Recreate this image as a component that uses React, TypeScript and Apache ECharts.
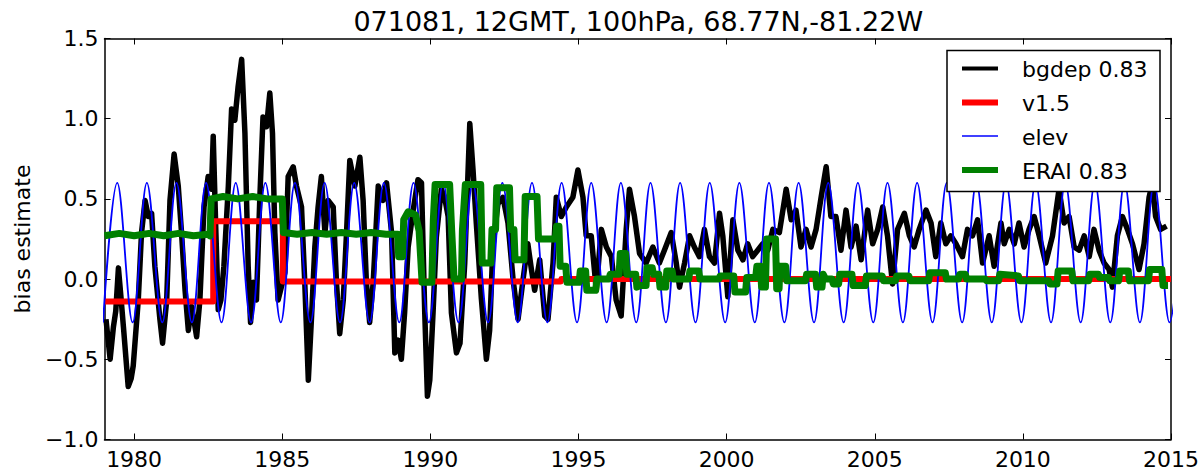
import React, { useEffect, useRef } from "react";
import * as echarts from "echarts";

const TITLE = "071081, 12GMT, 100hPa, 68.77N,-81.22W";
const Y_LABEL = "bias estimate";
const X_TICKS = [1980, 1985, 1990, 1995, 2000, 2005, 2010, 2015];
const LEGEND_NAMES = ["bgdep 0.83", "v1.5", "elev", "ERAI 0.83"];
const COLORS = ["#000000", "#ff0000", "#0000ff", "#008000"];
const WIDTHS = [5.5, 6, 1.8, 7];

const bgdep: [number, number][] = [
  [1979.05, -0.25], [1979.19, -0.5], [1979.3, -0.3], [1979.38, -0.2], [1979.47, 0.07], [1979.55, -0.1],
  [1979.64, -0.3], [1979.8, -0.67], [1979.9, -0.62], [1979.97, -0.54], [1980.14, -0.13], [1980.25, 0.29],
  [1980.37, 0.49], [1980.48, 0.39], [1980.59, 0.41], [1980.7, 0.08], [1980.87, -0.25], [1980.96, -0.4],
  [1981.1, -0.13], [1981.21, 0.49], [1981.35, 0.78], [1981.49, 0.58], [1981.6, 0.29], [1981.72, -0.07],
  [1981.83, -0.32], [1981.94, -0.17], [1982.11, -0.36], [1982.22, -0.13], [1982.36, 0.45], [1982.5, 0.64],
  [1982.61, 0.56], [1982.67, 0.89], [1982.76, 0.29], [1982.84, -0.19], [1982.93, -0.13], [1983.03, 0.08],
  [1983.18, 0.58], [1983.29, 1.06], [1983.4, 0.99], [1983.51, 1.2], [1983.63, 1.37], [1983.74, 0.91],
  [1983.85, 0.08], [1983.93, -0.27], [1984.02, -0.02], [1984.13, -0.13], [1984.24, 0.49], [1984.35, 1.01],
  [1984.47, 0.95], [1984.58, 1.16], [1984.67, 0.91], [1984.75, 0.29], [1984.86, -0.13], [1984.97, -0.05],
  [1985.09, 0.04], [1985.2, 0.64], [1985.37, 0.7], [1985.48, 0.58], [1985.65, 0.45], [1985.76, -0.02],
  [1985.88, -0.63], [1985.99, -0.23], [1986.1, 0.2], [1986.21, 0.45], [1986.32, 0.64], [1986.44, 0.29],
  [1986.55, 0.49], [1986.72, 0.45], [1986.83, -0.02], [1986.94, -0.34], [1987.06, -0.13], [1987.17, 0.29],
  [1987.28, 0.74], [1987.45, 0.58], [1987.62, 0.76], [1987.73, 0.49], [1987.84, -0.02], [1987.95, -0.27],
  [1988.07, -0.02], [1988.24, 0.58], [1988.4, 0.49], [1988.52, 0.6], [1988.69, 0.29], [1988.8, -0.46],
  [1988.91, -0.38], [1989.02, -0.5], [1989.13, -0.21], [1989.25, 0.2], [1989.42, 0.43], [1989.58, 0.62],
  [1989.7, 0.6], [1989.81, -0.21], [1989.9, -0.73], [1989.98, -0.63], [1990.09, -0.21], [1990.2, 0.26],
  [1990.37, 0.56], [1990.48, 0.51], [1990.6, 0.39], [1990.71, -0.21], [1990.88, -0.46], [1991.0, -0.4],
  [1991.16, 0.1], [1991.33, 0.97], [1991.44, 0.68], [1991.55, 0.35], [1991.72, -0.12], [1991.89, -0.5],
  [1992.0, -0.32], [1992.11, 0.2], [1992.28, 0.47], [1992.45, 0.51], [1992.62, 0.35], [1992.79, 0.0],
  [1992.96, -0.25], [1993.13, 0.0], [1993.29, 0.22], [1993.41, 0.06], [1993.52, -0.07], [1993.69, 0.12],
  [1993.86, -0.23], [1993.97, -0.25], [1994.14, 0.1], [1994.25, 0.51], [1994.42, 0.39], [1994.59, 0.45],
  [1994.81, 0.51], [1994.98, 0.68], [1995.15, 0.51], [1995.26, 0.27], [1995.43, 0.27], [1995.6, -0.07],
  [1995.77, 0.31], [1995.94, 0.2], [1996.11, 0.14], [1996.27, -0.13], [1996.44, -0.23], [1996.61, 0.31],
  [1996.72, 0.56], [1996.89, 0.39], [1997.06, 0.16], [1997.28, 0.1], [1997.51, 0.2], [1997.73, 0.1],
  [1997.9, 0.18], [1998.13, 0.29], [1998.3, 0.1], [1998.41, -0.05], [1998.58, 0.1], [1998.75, 0.27],
  [1998.91, 0.2], [1999.08, 0.14], [1999.25, 0.31], [1999.42, 0.14], [1999.59, 0.1], [1999.76, 0.41],
  [1999.87, 0.27], [2000.04, -0.11], [2000.21, 0.37], [2000.38, 0.18], [2000.55, 0.12], [2000.71, 0.22],
  [2000.88, 0.14], [2001.05, 0.18], [2001.22, 0.22], [2001.39, 0.18], [2001.56, 0.31], [2001.78, 0.29],
  [2002.01, 0.56], [2002.18, 0.37], [2002.34, 0.43], [2002.51, 0.2], [2002.68, 0.31], [2002.85, 0.2],
  [2003.02, 0.31], [2003.19, 0.51], [2003.36, 0.7], [2003.52, 0.39], [2003.69, 0.39], [2003.86, 0.18],
  [2004.03, 0.43], [2004.2, 0.2], [2004.37, 0.33], [2004.54, 0.12], [2004.76, 0.43], [2004.93, 0.22],
  [2005.1, 0.31], [2005.27, 0.45], [2005.43, 0.27], [2005.6, -0.03], [2005.77, 0.31], [2006.0, 0.41],
  [2006.17, 0.27], [2006.33, 0.2], [2006.5, 0.31], [2006.73, 0.43], [2006.9, 0.35], [2007.06, 0.14],
  [2007.23, 0.35], [2007.4, 0.22], [2007.57, 0.27], [2007.74, 0.22], [2007.96, 0.14], [2008.13, 0.31],
  [2008.3, 0.27], [2008.47, 0.37], [2008.64, 0.1], [2008.86, 0.27], [2009.03, 0.08], [2009.26, 0.35],
  [2009.37, 0.22], [2009.54, 0.31], [2009.71, 0.22], [2009.87, 0.35], [2010.04, 0.2], [2010.21, 0.31],
  [2010.38, 0.39], [2010.55, 0.27], [2010.77, 0.1], [2011.0, 0.27], [2011.22, 0.56], [2011.39, 0.35],
  [2011.56, 0.39], [2011.73, 0.2], [2011.9, 0.18], [2012.07, 0.27], [2012.24, 0.14], [2012.4, 0.31],
  [2012.57, 0.18], [2012.74, 0.1], [2012.91, 0.06], [2013.02, -0.05], [2013.19, 0.27], [2013.36, 0.39],
  [2013.53, 0.31], [2013.7, 0.22], [2013.92, 0.06], [2014.09, 0.22], [2014.26, 0.51], [2014.37, 0.6],
  [2014.48, 0.39], [2014.65, 0.31], [2014.85, 0.33]
];

const v15: [number, number][] = [
  [1979.0, -0.14], [1982.67, -0.14], [1982.67, 0.36], [1985.02, 0.36], [1985.02, -0.015],
  [1994.4, -0.015], [1994.42, 0.0], [2015.0, 0.0]
];

const elev: [number, number][] = [
  [1978.95, -0.27], [1979.43, 0.6], [1979.95, -0.27], [1980.43, 0.6], [1980.95, -0.27], [1981.43, 0.6],
  [1981.95, -0.27], [1982.43, 0.6], [1982.95, -0.27], [1983.43, 0.6], [1983.95, -0.27], [1984.43, 0.6],
  [1984.95, -0.27], [1985.43, 0.6], [1985.95, -0.27], [1986.43, 0.6], [1986.95, -0.27], [1987.43, 0.6],
  [1987.95, -0.27], [1988.43, 0.6], [1988.95, -0.27], [1989.43, 0.6], [1989.95, -0.27], [1990.43, 0.6],
  [1990.95, -0.27], [1991.43, 0.6], [1991.95, -0.27], [1992.43, 0.6], [1992.95, -0.27], [1993.43, 0.6],
  [1993.95, -0.27], [1994.43, 0.6], [1994.95, -0.27], [1995.43, 0.6], [1995.95, -0.27], [1996.43, 0.6],
  [1996.95, -0.27], [1997.43, 0.6], [1997.95, -0.27], [1998.43, 0.6], [1998.95, -0.27], [1999.43, 0.6],
  [1999.95, -0.27], [2000.43, 0.6], [2000.95, -0.27], [2001.43, 0.6], [2001.95, -0.27], [2002.43, 0.6],
  [2002.95, -0.27], [2003.43, 0.6], [2003.95, -0.27], [2004.43, 0.6], [2004.95, -0.27], [2005.43, 0.6],
  [2005.95, -0.27], [2006.43, 0.6], [2006.95, -0.27], [2007.43, 0.6], [2007.95, -0.27], [2008.43, 0.6],
  [2008.95, -0.27], [2009.43, 0.6], [2009.95, -0.27], [2010.43, 0.6], [2010.95, -0.27], [2011.43, 0.6],
  [2011.95, -0.27], [2012.43, 0.6], [2012.95, -0.27], [2013.43, 0.6], [2013.95, -0.27], [2014.43, 0.6],
  [2014.95, -0.27], [2015.43, 0.6]
];

const erai: [number, number][] = [
  [1979.0, 0.27], [1979.5, 0.285], [1980.0, 0.27], [1980.5, 0.285], [1981.0, 0.27], [1981.5, 0.285],
  [1982.0, 0.27], [1982.5, 0.28], [1982.56, 0.27], [1982.6, 0.5], [1983.0, 0.515], [1983.5, 0.5],
  [1984.0, 0.515], [1984.5, 0.5], [1985.0, 0.5], [1985.04, 0.29], [1985.5, 0.28], [1986.0, 0.29],
  [1986.5, 0.28], [1987.0, 0.29], [1987.5, 0.28], [1988.0, 0.29], [1988.5, 0.28], [1988.9, 0.28],
  [1988.93, 0.14], [1989.06, 0.14], [1989.1, 0.37], [1989.25, 0.42], [1989.5, 0.4], [1989.62, 0.3],
  [1989.72, -0.02], [1990.05, -0.02], [1990.1, 0.37], [1990.16, 0.59], [1990.65, 0.59], [1990.72, 0.3],
  [1990.8, 0.0], [1991.05, 0.0], [1991.08, 0.3], [1991.18, 0.59], [1991.7, 0.59], [1991.75, 0.1],
  [1992.04, 0.1], [1992.08, 0.31], [1992.2, 0.31], [1992.24, 0.57], [1992.67, 0.57], [1992.71, 0.31],
  [1992.82, 0.31], [1992.86, 0.12], [1993.16, 0.12], [1993.2, 0.515], [1993.6, 0.515], [1993.65, 0.25],
  [1994.22, 0.25], [1994.26, 0.33], [1994.34, 0.33], [1994.38, 0.08], [1994.57, 0.08], [1994.61, -0.02],
  [1995.02, -0.02], [1995.06, 0.05], [1995.24, 0.05], [1995.28, -0.07], [1995.58, -0.07], [1995.62, 0.0],
  [1996.03, 0.0], [1996.07, 0.03], [1996.37, 0.03], [1996.41, 0.16], [1996.59, 0.16], [1996.63, 0.03],
  [1996.93, 0.03], [1996.97, -0.05], [1997.08, -0.04], [1997.28, -0.04], [1997.31, 0.07], [1997.49, 0.07],
  [1997.53, 0.03], [1997.71, 0.03], [1997.75, -0.05], [1997.94, -0.05], [1997.98, 0.05], [1998.16, 0.05],
  [1998.2, 0.0], [1998.72, 0.0], [1998.76, 0.05], [1999.06, 0.05], [1999.1, 0.0], [1999.74, 0.0],
  [1999.78, 0.02], [2000.24, 0.02], [2000.28, -0.08], [2000.64, -0.08], [2000.68, 0.01], [2000.98, 0.01],
  [2001.02, 0.08], [2001.14, 0.08], [2001.18, -0.05], [2001.31, -0.05], [2001.35, 0.25], [2001.65, 0.25],
  [2001.69, -0.06], [2001.77, -0.06], [2001.8, 0.08], [2001.99, 0.08], [2002.03, -0.01], [2002.66, -0.01],
  [2002.7, 0.03], [2003.0, 0.03], [2003.04, -0.05], [2003.22, -0.05], [2003.26, 0.03], [2003.34, 0.0],
  [2003.56, 0.0], [2003.6, -0.03], [2003.78, -0.03], [2003.82, 0.03], [2004.23, 0.03], [2004.27, -0.04],
  [2004.68, -0.04], [2004.72, 0.02], [2005.25, 0.02], [2005.29, -0.01], [2005.7, -0.01], [2005.74, 0.02],
  [2006.15, 0.02], [2006.19, -0.01], [2006.82, -0.01], [2006.86, 0.04], [2007.38, 0.04], [2007.42, 0.0],
  [2007.83, 0.0], [2007.87, 0.03], [2008.06, 0.03], [2008.1, 0.0], [2008.73, 0.0], [2008.77, -0.01],
  [2009.18, -0.01], [2009.22, 0.03], [2009.85, 0.02], [2009.89, -0.01], [2010.87, -0.01], [2010.91, -0.03],
  [2011.15, -0.03], [2011.19, 0.05], [2011.65, 0.05], [2011.69, -0.01], [2012.22, -0.01], [2012.26, 0.03],
  [2012.55, 0.03], [2012.59, 0.01], [2012.89, 0.01], [2012.93, -0.01], [2013.23, -0.01], [2013.27, 0.05],
  [2013.56, 0.05], [2013.6, -0.01], [2014.24, -0.01], [2014.28, 0.06], [2014.69, 0.06], [2014.73, -0.04],
  [2014.9, -0.04]
];

const SERIES_DATA = [bgdep, v15, elev, erai];

const FONT = "DejaVu Sans";

export default function App() {
  const ref = useRef<HTMLDivElement>(null);
  useEffect(() => {
    document.body.style.margin = "0";
    if (!ref.current) return;
    const chart = echarts.init(ref.current, undefined, { renderer: "svg" });
    const L = 104.5, R = 1172, T = 38.5, B = 439.5;
    const axisCommon = {
      type: "value" as const,
      splitLine: { show: false },
      axisLine: { show: true, onZero: false, lineStyle: { color: "#000", width: 1.5 } },
    };
    const yFmt = (v: number) => v.toFixed(1).replace("-", "\u2212");
    const legendY = [68.5, 102.5, 136, 170];
    const legendW = [4, 6, 1.5, 6];
    const graphics: any[] = [
      {
        type: "text", x: (L + R) / 2, y: 21, z: 100,
        style: { text: TITLE, fill: "#000", font: `27px "${FONT}"`, textAlign: "center", textVerticalAlign: "middle" },
      },
      {
        type: "rect", z: 100, shape: { x: 947, y: 50.5, width: 213, height: 141 },
        style: { fill: "#fff", stroke: "#000", lineWidth: 1.5 },
      },
    ];
    LEGEND_NAMES.forEach((n, i) => {
      graphics.push({
        type: "line", z: 101, shape: { x1: 962, y1: legendY[i], x2: 998, y2: legendY[i] },
        style: { stroke: COLORS[i], lineWidth: legendW[i] },
      });
      graphics.push({
        type: "text", z: 101, x: 1022, y: legendY[i] + 1,
        style: { text: n, fill: "#000", font: `22px "${FONT}"`, textAlign: "left", textVerticalAlign: "middle" },
      });
    });
    chart.setOption({
      animation: false,
      backgroundColor: "#fff",
      grid: { left: L, right: 1202 - R, top: T, bottom: 471 - B, containLabel: false },
      xAxis: [
        {
          ...axisCommon, position: "bottom", min: 1979, max: 2015,
          axisTick: { show: true, inside: true, length: 6, customValues: X_TICKS, lineStyle: { color: "#000", width: 1 } },
          axisLabel: { show: true, customValues: X_TICKS, color: "#000", fontSize: 22, fontFamily: FONT, margin: 9, formatter: (v: number) => String(v) },
        },
        {
          ...axisCommon, position: "top", min: 1979, max: 2015,
          axisTick: { show: true, inside: true, length: 6, customValues: X_TICKS, lineStyle: { color: "#000", width: 1 } },
          axisLabel: { show: false },
        },
      ],
      yAxis: [
        {
          ...axisCommon, position: "left", min: -1, max: 1.5, interval: 0.5,
          axisTick: { show: true, inside: true, length: 6, lineStyle: { color: "#000", width: 1 } },
          axisLabel: { show: true, color: "#000", fontSize: 22, fontFamily: FONT, margin: 6, formatter: yFmt },
          name: Y_LABEL, nameLocation: "middle", nameGap: 71,
          nameTextStyle: { color: "#000", fontSize: 22, fontFamily: FONT },
        },
        {
          ...axisCommon, position: "right", min: -1, max: 1.5, interval: 0.5,
          axisTick: { show: true, inside: true, length: 6, lineStyle: { color: "#000", width: 1 } },
          axisLabel: { show: false },
        },
      ],
      series: SERIES_DATA.map((d, i) => ({
        name: LEGEND_NAMES[i],
        type: "line",
        xAxisIndex: 0,
        yAxisIndex: 0,
        data: d,
        showSymbol: false,
        symbol: "none",
        smooth: i === 2 ? 0.36 : false,
        clip: true,
        z: 2 + i,
        lineStyle: { color: COLORS[i], width: WIDTHS[i], join: "round", cap: "butt" },
      })),
      graphic: graphics,
    });
    return () => chart.dispose();
  }, []);
  return <div ref={ref} style={{ width: 1202, height: 471 }} />;
}
